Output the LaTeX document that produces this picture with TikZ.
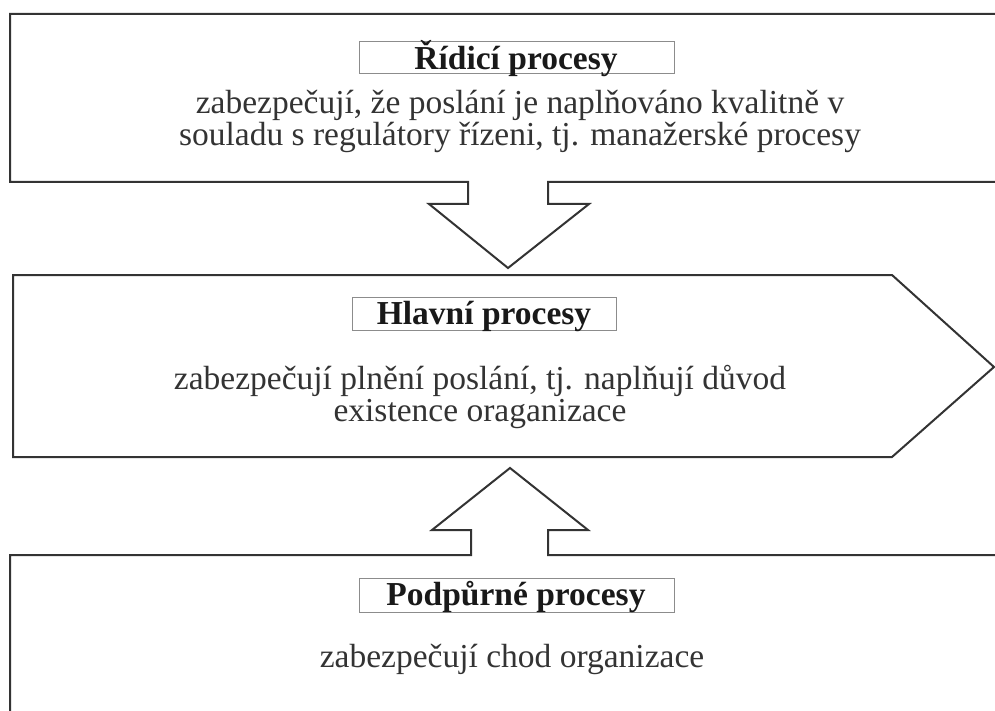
\documentclass[tikz,border=0pt]{standalone}
\usepackage{fontspec}
\setmainfont{Liberation Serif}
\tikzset{
  outline/.style={draw=black!80, line width=2pt, line join=miter},
  titlebox/.style={draw=black!45, line width=0.9pt, minimum height=32pt, inner sep=0pt, font=\fontsize{33.5}{34}\selectfont\bfseries, text=black!90},
  desc/.style={align=center, font=\fontsize{33.5}{32}\selectfont, text=black!80, inner sep=0pt}
}
\begin{document}
\begin{tikzpicture}[x=1pt,y=-1pt]
\useasboundingbox (0,0) rectangle (995,711);
% top box with down arrow
\draw[outline] (995,14) -- (10,14) -- (10,182) -- (468,182) -- (468,204) -- (429,204) -- (508,268) -- (589,204) -- (548,204) -- (548,182) -- (995,182);
% middle arrow box
\draw[outline] (13,275) -- (892,275) -- (994,367) -- (892,457) -- (13,457) -- cycle;
% bottom box with up arrow
\draw[outline] (10,711) -- (10,555) -- (471,555) -- (471,530) -- (432,530) -- (510,468) -- (588,530) -- (548,530) -- (548,555) -- (995,555);

\node[titlebox, minimum width=315pt] (t1) at (516.5,57) {};
\node[font=\fontsize{33.5}{34}\selectfont\bfseries, text=black!90, inner sep=0pt] (t1l) at (516,59) {Řídicí procesy};
\node[desc] (d1) at (520,121) {zabezpečují, že poslání je naplňováno kvalitně v\\souladu s regulátory řízeni, tj. manažerské procesy};

\node[titlebox, minimum width=264pt, minimum height=33pt] (t2) at (484,313.5) {};
\node[font=\fontsize{33.5}{34}\selectfont\bfseries, text=black!90, inner sep=0pt] (t2l) at (484,316) {Hlavní procesy};
\node[desc] (d2) at (480,397) {zabezpečují plnění poslání, tj. naplňují důvod\\existence oraganizace};

\node[titlebox, minimum width=315pt, minimum height=34pt] (t3) at (516.5,595) {};
\node[font=\fontsize{33.5}{34}\selectfont\bfseries, text=black!90, inner sep=0pt] (t3l) at (516,597) {Podpůrné procesy};
\node[desc] (d3) at (512,659) {zabezpečují chod organizace};
\end{tikzpicture}
\end{document}
